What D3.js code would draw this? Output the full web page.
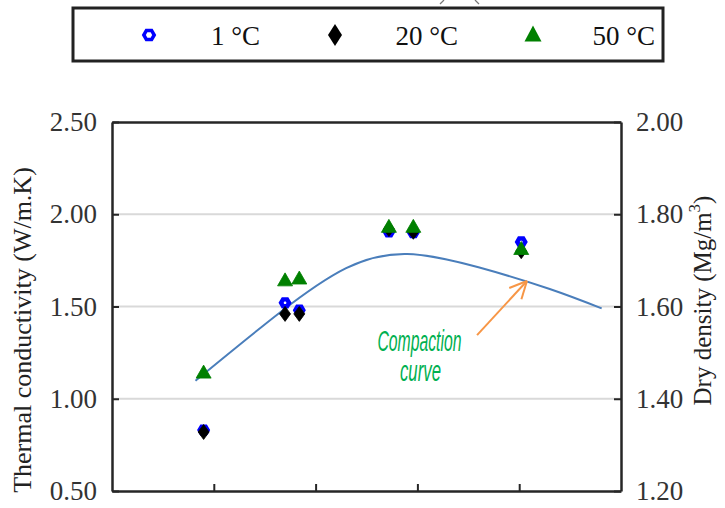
<!DOCTYPE html>
<html>
<head>
<meta charset="utf-8">
<script src="https://cdn.jsdelivr.net/npm/d3@7"></script>
<style>
  html, body { margin: 0; padding: 0; background: #fff; }
  svg { display: block; }
</style>
</head>
<body>
<svg id="chart" width="725" height="508"></svg>
<script>
// Moisture content (%) of each specimen group
const moisture = [9.5, 13.5, 14.2, 18.6, 19.8, 25.1];
// Thermal conductivity (W/m.K) at three test temperatures
const k1C  = [0.83, 1.52, 1.48, 1.905, 1.90, 1.85];
const k20C = [0.82, 1.46, 1.46, 1.92, 1.905, 1.80];
const k50C = [1.14, 1.64, 1.65, 1.93, 1.93, 1.81];
// Compaction curve: dry density (Mg/m3) vs moisture content
const curveMoisture = [9.1, 13.25, 16.5, 19.5, 23.0, 26.5, 29.05];
const curveDensity  = [1.439, 1.587, 1.683, 1.714, 1.685, 1.638, 1.596];
// Axis ticks
const leftTicks  = [0.5, 1.0, 1.5, 2.0, 2.5];
const rightTicks = [1.2, 1.4, 1.6, 1.8, 2.0];
const xTicks = [10, 15, 20, 25];
const legendLabels = ["1 °C", "20 °C", "50 °C"];

const svg = d3.select("#chart");
const L = 112, R = 621, T = 122, B = 491;
const serif = "'Liberation Serif', 'Times New Roman', serif";
const axisColor = "#262626";

const x = d3.scaleLinear().domain([5, 30]).range([L, R]);
const yL = d3.scaleLinear().domain([0.5, 2.5]).range([B, T]);
const yR = d3.scaleLinear().domain([1.2, 2.0]).range([B, T]);

// Lower tips of the panel label's brackets, above the legend
[[442, -1], [477, 1]].forEach(([cx, dir]) => {
  svg.append("line")
    .attr("x1", cx - 2 * dir).attr("y1", 0)
    .attr("x2", cx + 2 * dir).attr("y2", 4)
    .attr("stroke", "#777").attr("stroke-width", 1.2);
});

// Horizontal gridlines
svg.append("g").selectAll("line")
  .data([1.0, 1.5, 2.0]).join("line")
  .attr("x1", L).attr("x2", R)
  .attr("y1", d => yL(d)).attr("y2", d => yL(d))
  .attr("stroke", "#d9d9d9").attr("stroke-width", 2);

// Left axis (ticks inward)
const gL = svg.append("g").attr("transform", `translate(${L},0)`)
  .call(d3.axisLeft(yL).tickValues(leftTicks).tickFormat(d3.format(".2f"))
    .tickSizeInner(-7).tickSizeOuter(0).tickPadding(15));
// Right axis (ticks inward)
const gR = svg.append("g").attr("transform", `translate(${R},0)`)
  .call(d3.axisRight(yR).tickValues(rightTicks).tickFormat(d3.format(".2f"))
    .tickSizeInner(-7).tickSizeOuter(0).tickPadding(15));
// Bottom axis: inward ticks only
const gB = svg.append("g").attr("transform", `translate(0,${B})`)
  .call(d3.axisBottom(x).tickValues(xTicks).tickFormat("").tickSizeInner(-7).tickSizeOuter(0));
// Top edge
const gT = svg.append("g").attr("transform", `translate(0,${T})`)
  .call(d3.axisTop(x).tickValues([]).tickSizeOuter(0));

[gL, gR, gB, gT].forEach(g => {
  g.select(".domain").attr("stroke", axisColor).attr("stroke-width", 2.5);
  g.selectAll(".tick line").attr("stroke", axisColor).attr("stroke-width", 2);
  g.selectAll(".tick text").attr("font-family", serif).attr("font-size", 27).attr("fill", "#333");
});

// Axis titles
svg.append("text")
  .attr("transform", `translate(31,330) rotate(-90)`)
  .attr("text-anchor", "middle")
  .attr("font-family", serif).attr("font-size", 26).attr("fill", "#222")
  .text("Thermal conductivity (W/m.K)");

const rt = svg.append("text")
  .attr("transform", `translate(711,${(T + B) / 2 - 6}) rotate(-90)`)
  .attr("text-anchor", "middle")
  .attr("font-family", serif).attr("font-size", 25).attr("fill", "#222");
rt.append("tspan").text("Dry density (Mg/m");
rt.append("tspan").attr("dy", -11).attr("font-size", 17).text("3");
rt.append("tspan").attr("dy", 11).text(")");

// Compaction curve on the right axis
const line = d3.line()
  .x(d => x(d[0])).y(d => yR(d[1]))
  .curve(d3.curveNatural);
svg.append("path")
  .datum(d3.zip(curveMoisture, curveDensity))
  .attr("d", line)
  .attr("fill", "none")
  .attr("stroke", "#4a7ebb").attr("stroke-width", 2);

// Marker shapes
const hexagon = r => ({
  draw(ctx) {
    for (let i = 0; i < 6; i++) {
      const a = Math.PI / 3 * i;
      const px = r * Math.cos(a), py = r * Math.sin(a);
      i ? ctx.lineTo(px, py) : ctx.moveTo(px, py);
    }
    ctx.closePath();
  }
});
const diamond = (w, h) => ({
  draw(ctx) {
    ctx.moveTo(0, -h / 2); ctx.lineTo(w / 2, 0);
    ctx.lineTo(0, h / 2); ctx.lineTo(-w / 2, 0); ctx.closePath();
  }
});
const triangle = (w, h) => ({
  draw(ctx) {
    ctx.moveTo(0, -h * 0.6); ctx.lineTo(w / 2, h * 0.4);
    ctx.lineTo(-w / 2, h * 0.4); ctx.closePath();
  }
});

const series = [
  { label: legendLabels[0], vals: k1C, draw: s => s.attr("d", d3.symbol(hexagon(4))())
      .attr("fill", "#fff").attr("stroke", "#0000ff").attr("stroke-width", 4.4) },
  { label: legendLabels[1], vals: k20C, draw: s => s.attr("d", d3.symbol(diamond(11, 15))())
      .attr("fill", "#000").attr("stroke", "#000").attr("stroke-width", 0.8) },
  { label: legendLabels[2], vals: k50C, draw: s => s.attr("d", d3.symbol(triangle(15, 13))())
      .attr("fill", "#008000").attr("stroke", "#008000").attr("stroke-width", 0.8) }
];

series.forEach(sr => {
  svg.append("g").selectAll("path")
    .data(d3.zip(moisture, sr.vals)).join("path")
    .attr("transform", d => `translate(${x(d[0])},${yL(d[1])})`)
    .call(sr.draw);
});

// Annotation for the compaction curve
const ann = { tail: [22.93, 1.345], tip: [25.38, 1.638] };
const orange = "#f79646";
const tx = x(ann.tip[0]), ty = yL(ann.tip[1]);
svg.append("line")
  .attr("x1", x(ann.tail[0])).attr("y1", yL(ann.tail[1]))
  .attr("x2", tx).attr("y2", ty)
  .attr("stroke", orange).attr("stroke-width", 2);
const ang = Math.atan2(ty - yL(ann.tail[1]), tx - x(ann.tail[0]));
[ang + Math.PI - 0.45, ang + Math.PI + 0.45].forEach(a => {
  svg.append("line")
    .attr("x1", tx).attr("y1", ty)
    .attr("x2", tx + 19 * Math.cos(a)).attr("y2", ty + 19 * Math.sin(a))
    .attr("stroke", orange).attr("stroke-width", 2);
});
const annText = [["Compaction", 20.1, 1.26, 84], ["curve", 20.15, 1.095, 41]];
annText.forEach(([t, mx, my, len]) => {
  svg.append("text")
    .attr("x", x(mx)).attr("y", yL(my))
    .attr("text-anchor", "middle")
    .attr("font-family", "'Liberation Sans Narrow', 'Liberation Sans', sans-serif")
    .attr("font-style", "italic").attr("font-size", 29)
    .attr("fill", "#00b050")
    .attr("textLength", len).attr("lengthAdjust", "spacingAndGlyphs")
    .text(t);
});

// Legend
svg.append("rect")
  .attr("x", 73).attr("y", 8).attr("width", 590).attr("height", 53)
  .attr("fill", "#fff").attr("stroke", "#222").attr("stroke-width", 3);
const legendMarkX = [149, 335, 533];
const legendTextX = [260, 458, 655];
const legendMarks = [
  s => s.attr("d", d3.symbol(hexagon(5.2))()).attr("fill", "#fff").attr("stroke", "#0000ff").attr("stroke-width", 3.5),
  s => s.attr("d", d3.symbol(diamond(14, 22))()).attr("fill", "#000"),
  s => s.attr("d", d3.symbol(triangle(17, 16))()).attr("fill", "#008000")
];
series.forEach((sr, i) => {
  svg.append("path")
    .attr("transform", `translate(${legendMarkX[i]},35)`)
    .call(legendMarks[i]);
  svg.append("text")
    .attr("x", legendTextX[i]).attr("y", 45)
    .attr("text-anchor", "end")
    .attr("font-family", serif).attr("font-size", 27).attr("fill", "#111")
    .text(sr.label);
});
</script>
</body>
</html>
